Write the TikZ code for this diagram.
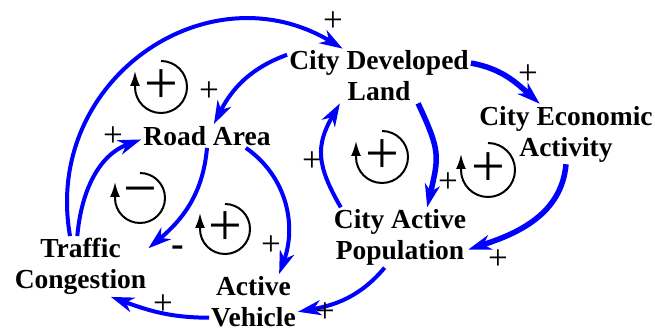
\documentclass[tikz,border=0pt]{standalone}
\usepackage{fontspec}
\setmainfont{Liberation Serif}
\usetikzlibrary{arrows.meta}

\begin{document}
\begin{tikzpicture}[x=1pt, y=1pt,
  var/.style={align=center, inner sep=2pt, font=\fontsize{27.5}{31}\selectfont\bfseries},
  link/.style={blue, line width=4pt, -{Stealth[length=23pt, width=15pt, inset=7pt]}},
  heavy/.style={line width=5.5pt},
  pol/.style={inner sep=0pt, font=\fontsize{35}{35}\selectfont},
  loopsign/.style={inner sep=0pt, font=\fontsize{60}{60}\selectfont},
  looparrow/.style={line width=2pt, -{Latex[length=15pt, width=10pt]}}]
\useasboundingbox (0,0) rectangle (655,331);

\node[var] (dev) at (379,255) {City Developed\\Land};
\node[var] (road) at (207,195) {Road Area};
\node[var] (eco) at (566,197) {City Economic\\Activity};
\node[var] (pop) at (400,93.5) {City Active\\Population};
\node[var] (traf) at (80.5,64.5) {Traffic\\Congestion};
\node[var] (veh) at (253.5,29.5) {Active\\Vehicle};

% loop markers
\node[loopsign] (l1) at (161,244) {+};
\node[loopsign] (l2) at (140,133) {−};
\node[loopsign] (l3) at (225,102) {+};
\node[loopsign] (l4) at (382,174) {+};
\node[loopsign] (l5) at (488,161) {+};
\draw[looparrow] ([shift={(90:26)}]l1.center) arc[start angle=90, end angle=-180, radius=26] -- ++(0,16);
\draw[looparrow] ([shift={(90:25)}]l2.center) arc[start angle=90, end angle=-180, radius=25] -- ++(0,16);
\draw[looparrow] ([shift={(90:25)}]l3.center) arc[start angle=90, end angle=-180, radius=25] -- ++(0,16);
\draw[looparrow] ([shift={(90:26)}]l4.center) arc[start angle=90, end angle=-180, radius=26] -- ++(0,16);
\draw[looparrow] ([shift={(90:27)}]l5.center) arc[start angle=90, end angle=-180, radius=27] -- ++(0,16);

% links
\draw[link] (traf.109) to[out=100, in=149, looseness=1.22] (dev.143);
\draw[link] (dev.167) to[out=200, in=63] (road.60);
\draw[link] (traf.96) to[out=85, in=200] (road.183);
\draw[link] (road.south) to[out=265, in=40] (traf.15);
\draw[link] (road.343) to[out=-35, in=70] (veh.47);
\draw[link] (veh.200) to[out=180, in=-20] (traf.-45);
\draw[link] (pop.243) to[out=230, in=10] (veh.-13);
\draw[link] (pop.153) to[out=120, in=240, looseness=1.2] (dev.215);
\draw[link, heavy] (dev.325) to[out=-65, in=77, looseness=1.3] (pop.48);
\draw[link, heavy] (dev.8) to[out=-10, in=138] (eco.131);
\draw[link, heavy] (eco.south) to[out=265, in=18] (pop.-10);

% polarities
\node[pol] (p1) at (333,309) {+};
\node[pol] (p2) at (209,239) {+};
\node[pol] (p3) at (113,194) {+};
\node[pol, font=\fontsize{38}{38}\selectfont\bfseries] (p4) at (178,80) {-};
\node[pol] (p5) at (271,85) {+};
\node[pol] (p6) at (163,26) {+};
\node[pol] (p7) at (325,18) {+};
\node[pol] (p8) at (312,169) {+};
\node[pol] (p9) at (448,148) {+};
\node[pol] (p10) at (528,256) {+};
\node[pol] (p11) at (498,71) {+};

\end{tikzpicture}
\end{document}
